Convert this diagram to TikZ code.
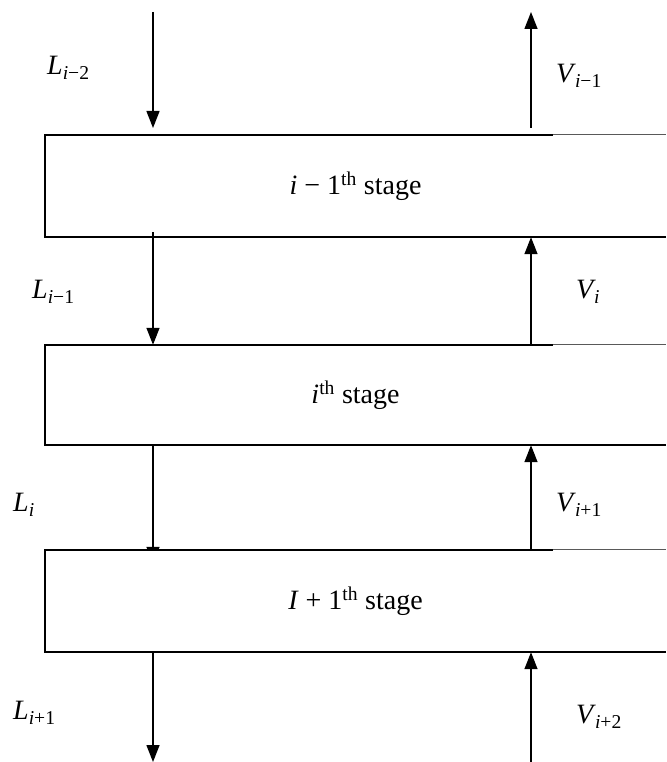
\documentclass[tikz,border=0pt]{standalone}
\usepackage{fontspec}
\setmainfont{Liberation Serif}
\usetikzlibrary{arrows.meta}
\tikzset{
  stagebox/.style={minimum width=621pt, inner sep=0pt, fill=white, font=\fontsize{28}{32}\selectfont},
  edge/.style={line width=1.5pt},
  thinedge/.style={line width=0.8pt, draw=black!65},
  flow/.style={line width=1.4pt, -{Triangle[width=13pt,length=17pt]}},
  lbl/.style={anchor=west, inner sep=0pt, font=\fontsize{28}{32}\selectfont},
}
\newcommand{\subtxt}[1]{\textsubscript{#1}}
\begin{document}
\begin{tikzpicture}[x=1pt,y=1pt]
\useasboundingbox (0,0) rectangle (666,-762);
% coordinates for arrow columns
\coordinate (lx) at (153,0);
\coordinate (rx) at (531,0);
\coordinate (ltop) at (153,-12);
\coordinate (ltopend) at (153,-128);
\coordinate (rtop) at (531,-128);
\coordinate (rtopend) at (531,-12);
\coordinate (lbot) at (153,-762);
\coordinate (rbot) at (531,-762);
% arrows (drawn before boxes so box fill can hide them)
\draw[flow] (ltop) -- (ltopend);
\draw[flow] (rtop) -- (rtopend);
% boxes
\node[stagebox, minimum height=102pt] (s1) at (355.5,-186) {\raisebox{-2pt}{\textit{i} − 1\textsuperscript{th} stage}};
\node[stagebox, minimum height=100pt] (s2) at (355.5,-395) {\raisebox{-4pt}{\textit{i}\textsuperscript{th} stage}};
\node[stagebox, minimum height=102pt] (s3) at (355.5,-601) {\raisebox{-2pt}{\textit{I} + 1\textsuperscript{th} stage}};
% L_i arrow mostly hidden behind box 3
\draw[flow] (s2.south -| lx) -- ([yshift=-14pt]s3.north -| lx);
\fill[white] ([yshift=-1pt]s3.north west) rectangle ([yshift=-15pt]s3.north east);
% box borders
\foreach \s in {s1,s2,s3}{
  \draw[edge] (\s.north west -| 553,0) -- (\s.north west) -- (\s.south west) -- (\s.south east);
  \draw[thinedge] (\s.north west -| 553,0) -- (\s.north east);
}
% other arrows
\draw[flow] ([yshift=5pt]s1.south -| lx) -- (s2.north -| lx);
\draw[flow] (s2.north -| rx) -- (s1.south -| rx);
\draw[flow] (s3.north -| rx) -- (s2.south -| rx);
\draw[flow] (s3.south -| lx) -- (lbot);
\draw[flow] (rbot) -- (s3.south -| rx);
% labels
\node[lbl] (l1) at (47,-68) {\textit{L}\subtxt{\textit{i}−2}};
\node[lbl] (v1) at (556,-76) {\textit{V}\kern-1pt\subtxt{\textit{i}−1}};
\node[lbl] (l2) at (32,-292) {\textit{L}\subtxt{\textit{i}−1}};
\node[lbl] (v2) at (576,-292) {\textit{V}\kern-2pt\subtxt{\textit{i}}};
\node[lbl] (l3) at (13,-505) {\textit{L}\subtxt{\textit{i}}};
\node[lbl] (v3) at (556,-505) {\textit{V}\kern-1pt\subtxt{\textit{i}+1}};
\node[lbl] (l4) at (13,-713) {\textit{L}\subtxt{\textit{i}+1}};
\node[lbl] (v4) at (576,-717) {\textit{V}\kern-1pt\subtxt{\textit{i}+2}};
\end{tikzpicture}
\end{document}
